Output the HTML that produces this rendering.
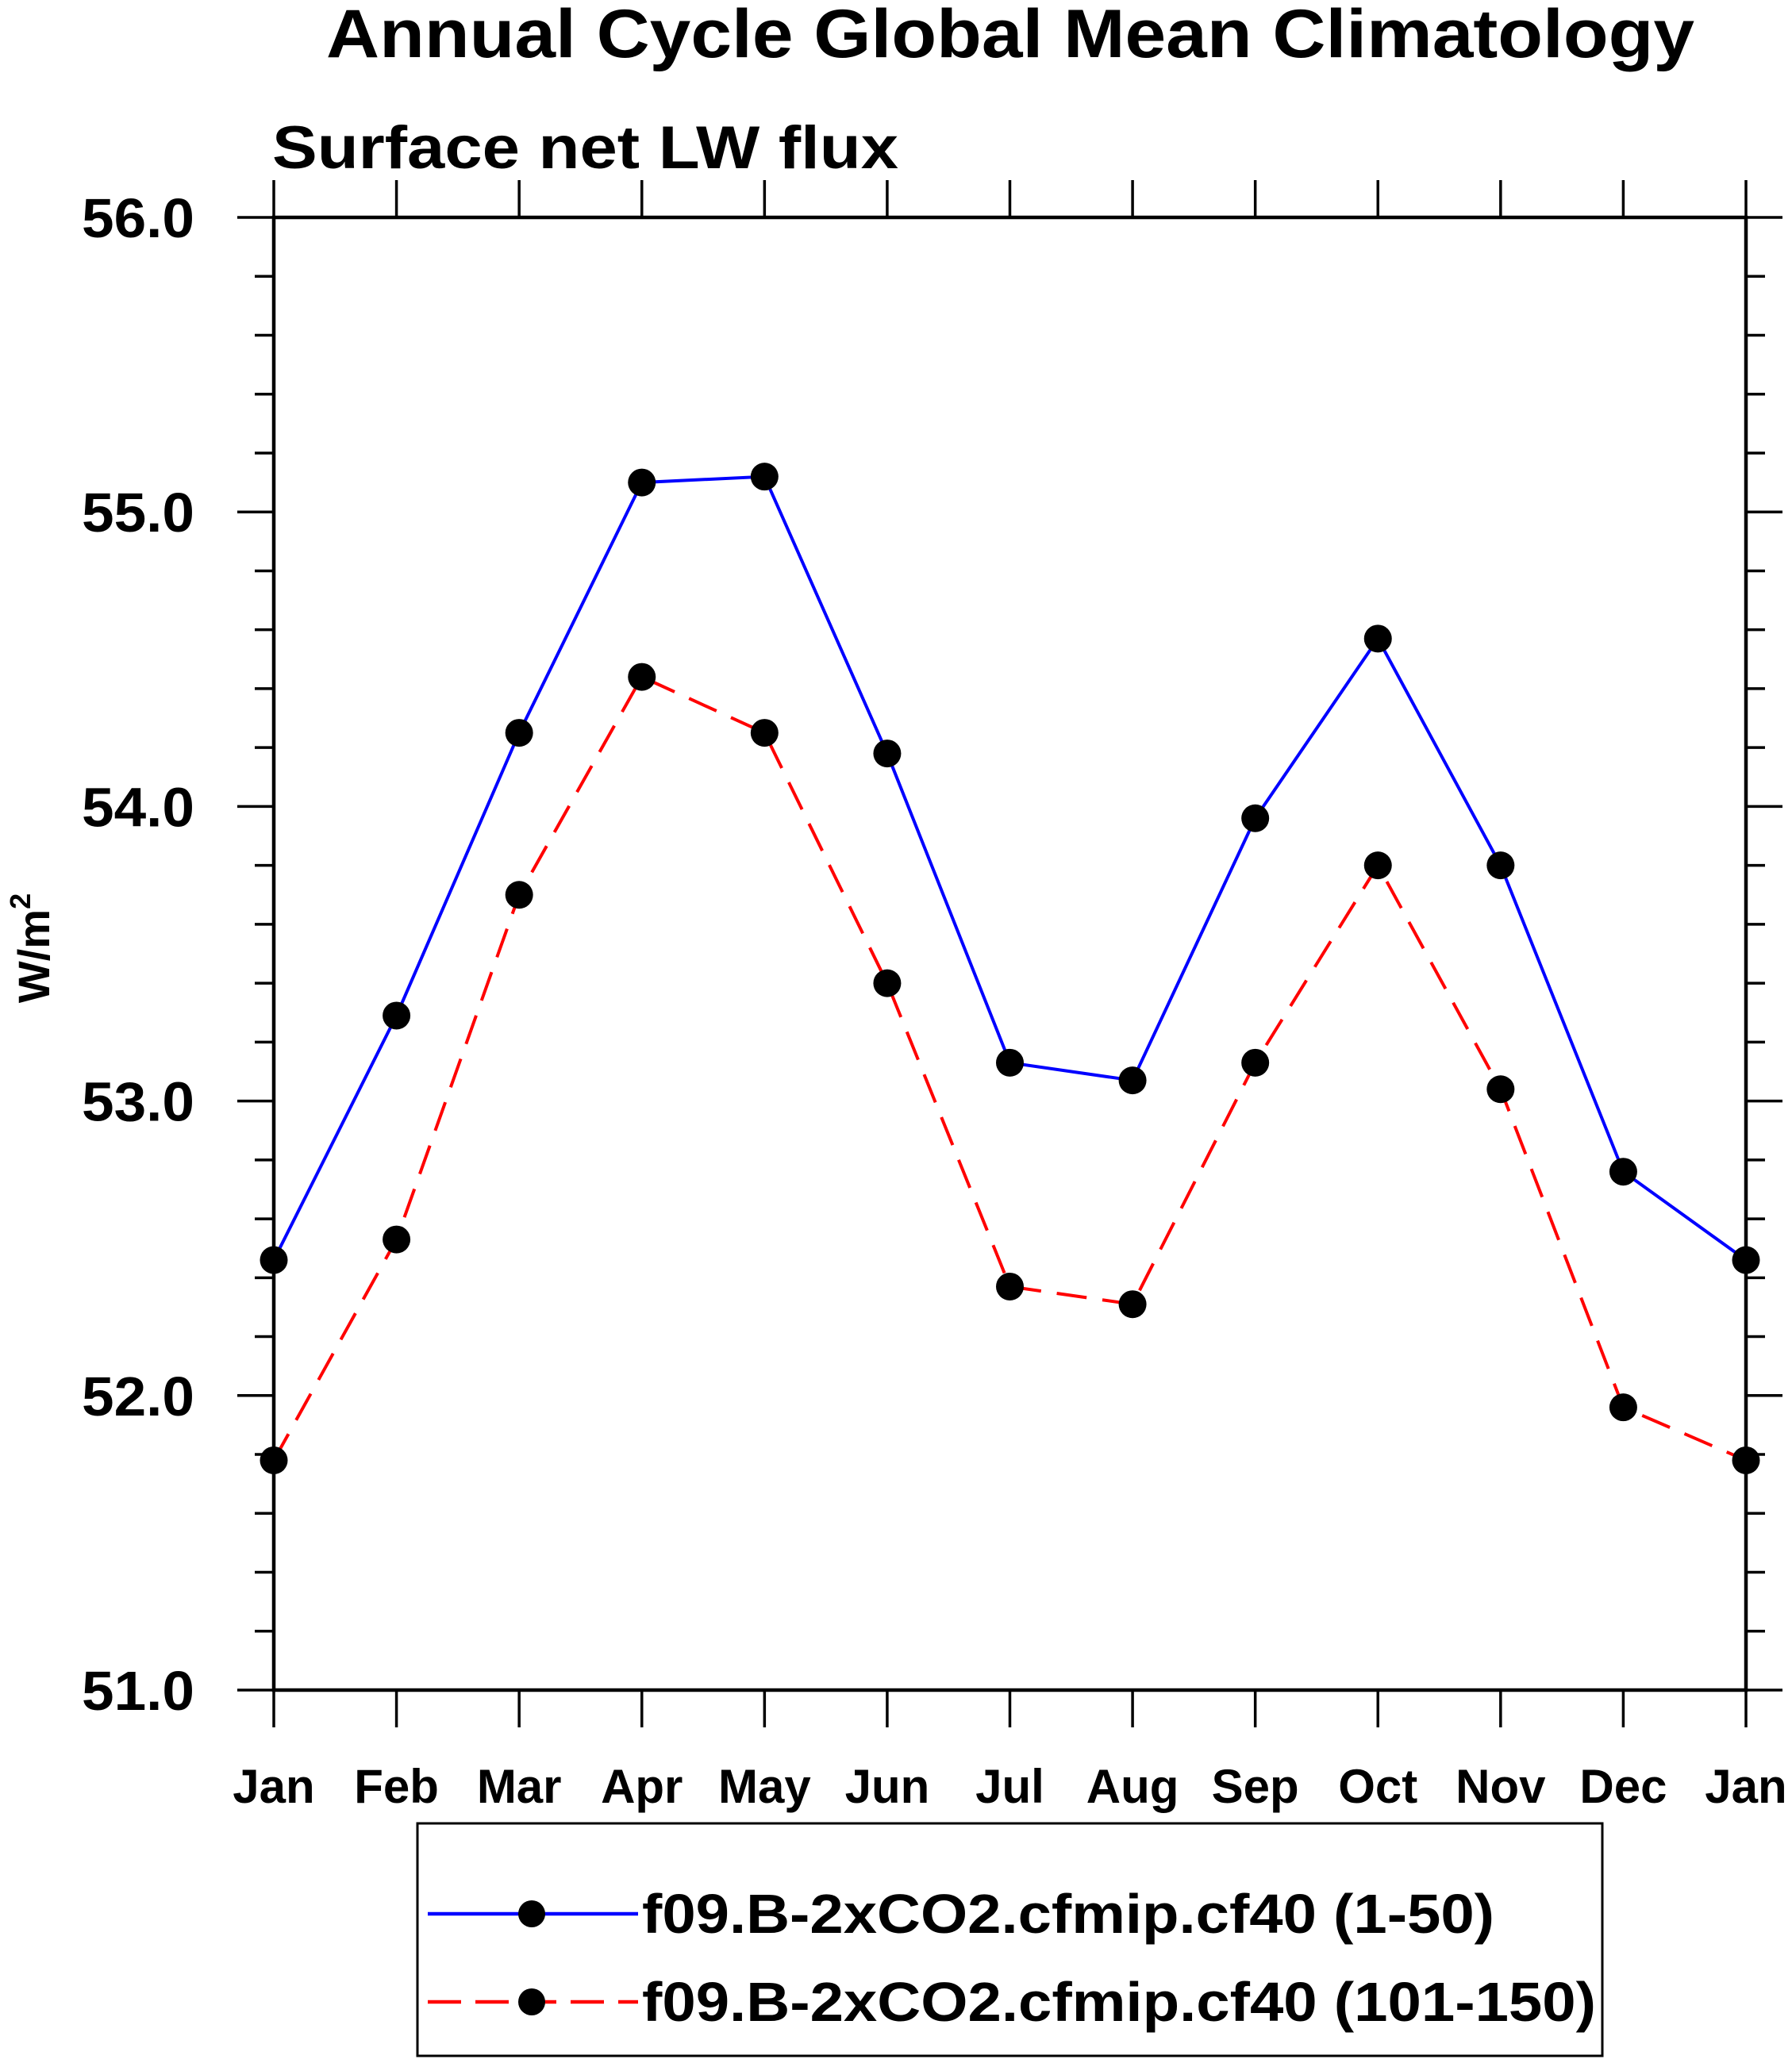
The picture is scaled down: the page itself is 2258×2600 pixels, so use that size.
<!DOCTYPE html>
<html><head><meta charset="utf-8"><style>
html,body{margin:0;padding:0;background:#fff;}
svg{display:block;}
text{font-family:"Liberation Sans",Arial,sans-serif;font-weight:bold;fill:#000;}
</style></head><body>
<svg id="chart" width="2258" height="2600" viewBox="0 0 2258 2600" xmlns="http://www.w3.org/2000/svg">
<text x="1273" y="72" font-size="86" text-anchor="middle" textLength="1724" lengthAdjust="spacingAndGlyphs">Annual Cycle Global Mean Climatology</text>
<text x="343" y="212" font-size="76" textLength="789" lengthAdjust="spacingAndGlyphs">Surface net LW flux</text>
<text transform="translate(62,1195) rotate(-90)" font-size="56" text-anchor="middle">W/m<tspan font-size="36" dy="-24">2</tspan></text>
<g id="axes"></g>
<g id="series"></g>
<g>
<rect x="526" y="2298" width="1493" height="293" fill="none" stroke="#000" stroke-width="3"/>
<g>
<line x1="539" y1="2412" x2="804" y2="2412" stroke="#0000ff" stroke-width="4.5"/>
<circle cx="670" cy="2412" r="17" fill="#000"/>
<text x="809" y="2436" font-size="70" textLength="1074" lengthAdjust="spacingAndGlyphs">f09.B-2xCO2.cfmip.cf40 (1-50)</text>
</g>
<g>
<line x1="539" y1="2523" x2="804" y2="2523" stroke="#ff0000" stroke-width="4.5" stroke-dasharray="42,18"/>
<circle cx="670" cy="2523" r="17" fill="#000"/>
<text x="809" y="2547" font-size="70" textLength="1202" lengthAdjust="spacingAndGlyphs">f09.B-2xCO2.cfmip.cf40 (101-150)</text>
</g>
</g>
</svg>
<script>
const months = ["Jan","Feb","Mar","Apr","May","Jun","Jul","Aug","Sep","Oct","Nov","Dec","Jan"];
const series1 = [52.46,53.29,54.25,55.10,55.12,54.18,53.13,53.07,53.96,54.57,53.80,52.76,52.46];
const series2 = [51.78,52.53,53.70,54.44,54.25,53.40,52.37,52.31,53.13,53.80,53.04,51.96,51.78];
const yTicks = [51.0,52.0,53.0,54.0,55.0,56.0];
const yMin = 51, yMax = 56;
const L=345, R=2200, T=274, B=2130;
const NS="http://www.w3.org/2000/svg";
function xs(i){return L+(R-L)*i/(months.length-1);}
function ys(v){return B-(v-yMin)/(yMax-yMin)*(B-T);}
function mk(tag,attrs,parent){const e=document.createElementNS(NS,tag);for(const k in attrs)e.setAttribute(k,attrs[k]);parent.appendChild(e);return e;}
const axes=document.getElementById('axes');
const frame=mk('rect',{x:L,y:T,width:R-L,height:B-T,fill:'none',stroke:'#000','stroke-width':4.5},axes);


for(let v=yMin; v<=yMax+1e-9; v+=0.2){
  const major=Math.abs(v-Math.round(v))<1e-6;
  const y=ys(v), len=major?46:24;
  const t1=mk('line',{x1:L-len,y1:y,x2:L,y2:y,stroke:'#000','stroke-width':3.5},axes);
  
  
  const t2=mk('line',{x1:R,y1:y,x2:R+len,y2:y,stroke:'#000','stroke-width':3.5},axes);
  
  
}
yTicks.forEach(v=>{
  const t=mk('text',{x:245,y:ys(v)+25,'font-size':70,'text-anchor':'end',textLength:142,lengthAdjust:'spacingAndGlyphs'},axes);
  t.textContent=v.toFixed(1);
  
  
});
months.forEach((m,i)=>{
  const x=xs(i);
  const b=mk('line',{x1:x,y1:B,x2:x,y2:B+47,stroke:'#000','stroke-width':3.5},axes);
  
  
  const t=mk('line',{x1:x,y1:T-47,x2:x,y2:T,stroke:'#000','stroke-width':3.5},axes);
  
  
  const lab=mk('text',{x:x,y:2272,'font-size':60,'text-anchor':'middle'},axes);
  lab.textContent=m;
  
  
});
const sg=document.getElementById('series');
function draw(vals,color,dash,name){
  const pts=vals.map((v,i)=>xs(i)+','+ys(v)).join(' ');
  const pl=mk('polyline',{points:pts,fill:'none',stroke:color,'stroke-width':4},sg);
  if(dash)pl.setAttribute('stroke-dasharray',dash);
  
  
  vals.forEach((v,i)=>{
    const c=mk('circle',{cx:xs(i),cy:ys(v),r:17.5,fill:'#000'},sg);
    
    
  });
}
draw(series1,'#0000ff',null,'series-1-50');
draw(series2,'#ff0000','38,20','series-101-150');
</script>
</body></html>
